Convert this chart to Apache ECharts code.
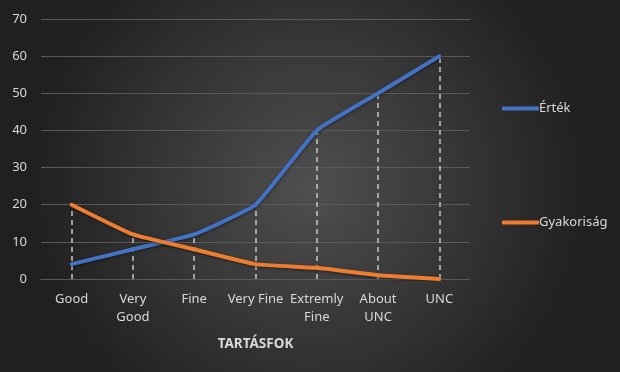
<!DOCTYPE html>
<html><head><meta charset="utf-8">
<script src="https://cdn.jsdelivr.net/npm/echarts@6/dist/echarts.min.js"></script>
<style>html,body{margin:0;padding:0;background:#333}#c{width:620px;height:372px}</style>
</head><body><div id="c"></div>
<script>
const categories = ['Good', 'Very\nGood', 'Fine', 'Very Fine', 'Extremly\nFine', 'About\nUNC', 'UNC'];
const ertek = [4, 8, 12, 20, 40, 50, 60];
const gyakorisag = [20, 12, 8, 4, 3, 1, 0];
const yTicks = [0, 10, 20, 30, 40, 50, 60, 70];

const dropLines = categories.map((c, i) => [
  { coord: [i, 0] },
  { coord: [i, Math.max(ertek[i], gyakorisag[i])] }
]);

const font = 'Noto Sans';
const txt = '#d9d9d9';
const chart = echarts.init(document.getElementById('c'));
chart.setOption({
  backgroundColor: {
    type: 'radial', x: 0.5, y: 0.5, r: 0.75,
    colorStops: [{ offset: 0, color: '#4f4f4f' }, { offset: 1, color: '#202020' }]
  },
  animation: false,
  grid: { left: 41, right: 150, top: 19, bottom: 93 },
  legend: [
    { data: ['Érték'], orient: 'vertical', left: 497, top: 97, icon: 'roundRect',
      itemWidth: 37, itemHeight: 4, itemGap: 0,
      textStyle: { color: txt, fontFamily: font, fontSize: 13, padding: [0, 0, 0, -5] } },
    { data: ['Gyakoriság'], orient: 'vertical', left: 497, top: 211, icon: 'roundRect',
      itemWidth: 37, itemHeight: 4, itemGap: 0,
      textStyle: { color: txt, fontFamily: font, fontSize: 13, padding: [0, 0, 0, -5] } }
  ],
  xAxis: {
    type: 'category', data: categories, boundaryGap: true,
    name: 'TARTÁSFOK', nameLocation: 'middle', nameGap: 58,
    nameTextStyle: { color: txt, fontFamily: font, fontSize: 13.5, fontWeight: 'bold' },
    axisLine: { lineStyle: { color: '#595959', width: 1 } },
    axisTick: { show: false },
    axisLabel: { color: txt, fontFamily: font, fontSize: 13, margin: 11, lineHeight: 18, interval: 0 }
  },
  yAxis: {
    type: 'value', min: yTicks[0], max: yTicks[yTicks.length - 1], interval: 10,
    axisLine: { show: false }, axisTick: { show: false },
    axisLabel: { color: txt, fontFamily: font, fontSize: 13, margin: 14 },
    splitLine: { lineStyle: { color: '#595959', width: 1 } }
  },
  series: [
    { name: 'Érték', type: 'line', data: ertek, smooth: 0.12, symbol: 'none',
      lineStyle: { color: '#4472C4', width: 4, cap: 'round', shadowColor: 'rgba(0,0,0,0.5)', shadowBlur: 3, shadowOffsetY: 1 },
      itemStyle: { color: '#4472C4' }, z: 3,
      markLine: { symbol: 'none', silent: true, label: { show: false },
        lineStyle: { color: '#c8c8c8', type: [5, 4], width: 1.5 }, data: dropLines, z: 1 } },
    { name: 'Gyakoriság', type: 'line', data: gyakorisag, smooth: 0.12, symbol: 'none',
      lineStyle: { color: '#ED7D31', width: 4, cap: 'round', shadowColor: 'rgba(0,0,0,0.5)', shadowBlur: 3, shadowOffsetY: 1 },
      itemStyle: { color: '#ED7D31' }, z: 4 }
  ]
});
</script></body></html>
